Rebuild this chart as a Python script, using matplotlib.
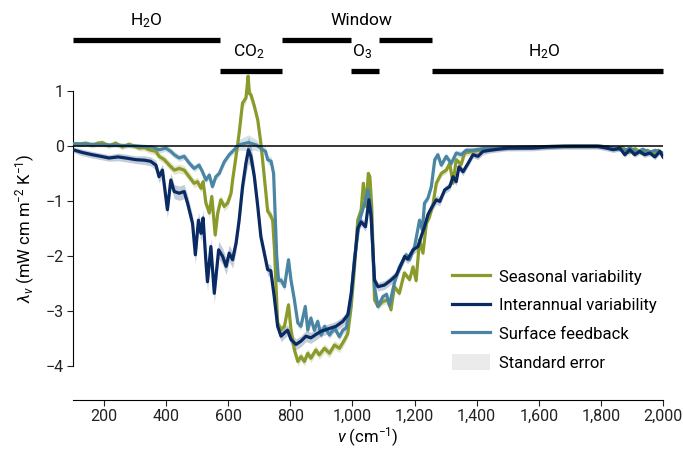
import numpy as np
import matplotlib
matplotlib.use("Agg")
import matplotlib.pyplot as plt
from matplotlib.lines import Line2D
from matplotlib.patches import Patch

plt.rcParams['font.family'] = ['Roboto', 'DejaVu Sans']
plt.rcParams['mathtext.fontset'] = 'custom'
plt.rcParams['mathtext.rm'] = 'Roboto'
plt.rcParams['mathtext.it'] = 'Roboto:italic'

# --- data (wavenumber in cm^-1, feedback in mW cm m^-2 K^-1) ---
seasonal_nu = [100, 120, 141, 162, 180, 194, 216, 237, 259, 280,
               300, 313, 330, 345, 367, 377, 394, 410, 426, 442,
               458, 474, 490, 501, 512, 519, 528, 539, 547, 558,
               566, 576, 587, 598, 609, 614, 625, 635, 646, 657,
               664, 668, 673, 684, 695, 705, 716, 727, 735, 743,
               749, 759, 770, 781, 794, 802, 813, 824, 834, 845,
               856, 866, 882, 893, 910, 926, 942, 958, 974, 985,
               996, 1006, 1017, 1028, 1035, 1044, 1051, 1056, 1062, 1071,
               1082, 1098, 1114, 1124, 1135, 1151, 1167, 1184, 1195, 1205,
               1216, 1227, 1238, 1248, 1259, 1270, 1286, 1302, 1313, 1324,
               1334, 1350, 1361, 1383, 1410, 1440, 1480, 1530, 1590, 1650,
               1720, 1780, 1820, 1845, 1870, 1890, 1910, 1930, 1950, 1970,
               1985, 2000]
seasonal = [0.04, 0.03, 0.05, 0.01, 0.05, 0.06, 0.00, 0.05, -0.02, 0.03,
            -0.01, -0.04, -0.03, -0.07, -0.10, -0.19, -0.25, -0.35, -0.44, -0.41,
            -0.44, -0.56, -0.68, -0.65, -0.77, -0.65, -1.04, -1.22, -0.92, -1.62,
            -1.22, -0.98, -1.10, -1.04, -0.86, -0.62, -0.19, 0.23, 0.78, 0.87,
            1.27, 0.95, 0.93, 0.72, 0.47, 0.05, -0.56, -1.19, -1.25, -1.35,
            -1.90, -3.22, -3.34, -3.28, -2.89, -3.34, -3.71, -3.92, -3.83, -3.92,
            -3.77, -3.86, -3.71, -3.80, -3.68, -3.77, -3.62, -3.68, -3.53, -3.41,
            -2.92, -2.25, -1.35, -1.16, -0.68, -1.10, -0.50, -0.56, -1.10, -2.80,
            -2.92, -2.83, -2.80, -2.98, -2.56, -2.68, -2.31, -2.43, -2.20, -2.45,
            -1.71, -1.95, -1.41, -1.29, -1.07, -0.68, -0.50, -0.44, -0.32, -0.68,
            -0.25, -0.34, -0.13, -0.10, -0.08, -0.06, -0.04, -0.03, -0.02, -0.01,
            0.00, 0.00, -0.02, -0.05, -0.03, -0.12, -0.05, -0.13, -0.08, -0.15,
            -0.08, -0.15]
seasonal_err = [0.04, 0.05, 0.05, 0.05, 0.05, 0.05, 0.05, 0.05, 0.05, 0.05,
                0.05, 0.05, 0.06, 0.06, 0.07, 0.07, 0.07, 0.08, 0.08, 0.08,
                0.08, 0.08, 0.08, 0.08, 0.08, 0.08, 0.09, 0.09, 0.09, 0.09,
                0.09, 0.08, 0.08, 0.08, 0.08, 0.08, 0.08, 0.09, 0.09, 0.09,
                0.09, 0.09, 0.09, 0.09, 0.09, 0.09, 0.09, 0.09, 0.09, 0.09,
                0.09, 0.08, 0.08, 0.08, 0.08, 0.08, 0.08, 0.08, 0.08, 0.08,
                0.08, 0.08, 0.08, 0.08, 0.08, 0.08, 0.08, 0.08, 0.08, 0.08,
                0.08, 0.08, 0.06, 0.06, 0.06, 0.06, 0.06, 0.06, 0.06, 0.06,
                0.06, 0.06, 0.06, 0.06, 0.06, 0.06, 0.06, 0.06, 0.06, 0.06,
                0.06, 0.06, 0.06, 0.06, 0.06, 0.06, 0.06, 0.06, 0.06, 0.06,
                0.06, 0.06, 0.06, 0.06, 0.05, 0.05, 0.04, 0.04, 0.04, 0.04,
                0.04, 0.04, 0.04, 0.04, 0.04, 0.04, 0.04, 0.04, 0.04, 0.04,
                0.04, 0.04]

interannual_nu = [100, 130, 162, 190, 216, 245, 270, 302, 330, 350,
                  367, 377, 388, 404, 415, 426, 442, 458, 469, 485,
                  494, 504, 512, 519, 528, 533, 544, 555, 569, 582,
                  593, 603, 614, 625, 635, 646, 657, 665, 673, 684,
                  695, 705, 716, 727, 737, 748, 759, 770, 781, 791,
                  802, 818, 834, 850, 866, 882, 899, 915, 931, 947,
                  969, 985, 996, 1006, 1017, 1028, 1042, 1053, 1060, 1071,
                  1082, 1103, 1124, 1141, 1152, 1168, 1178, 1195, 1211, 1221,
                  1232, 1243, 1254, 1270, 1281, 1297, 1313, 1324, 1334, 1343,
                  1356, 1372, 1388, 1404, 1420, 1442, 1469, 1500, 1540, 1580,
                  1625, 1680, 1735, 1790, 1818, 1840, 1861, 1877, 1893, 1909,
                  1925, 1941, 1958, 1974, 1990, 2000]
interannual = [-0.07, -0.12, -0.16, -0.19, -0.22, -0.20, -0.22, -0.25, -0.26, -0.28,
               -0.35, -0.56, -0.44, -1.16, -0.62, -0.83, -0.86, -0.83, -1.04, -1.41,
               -1.98, -1.35, -1.59, -1.31, -2.10, -2.47, -1.83, -2.68, -1.89, -2.01,
               -2.19, -1.95, -2.07, -1.77, -1.35, -0.74, -0.31, -0.07, -0.19, -0.56,
               -1.10, -1.65, -1.95, -2.25, -2.27, -2.74, -3.28, -3.46, -3.40, -3.35,
               -3.52, -3.61, -3.55, -3.46, -3.49, -3.43, -3.37, -3.34, -3.31, -3.28,
               -3.19, -3.07, -2.68, -2.13, -1.50, -1.38, -1.47, -0.98, -1.28, -2.44,
               -2.56, -2.53, -2.44, -2.35, -2.22, -2.01, -2.06, -1.89, -1.83, -1.65,
               -1.47, -1.25, -1.13, -0.98, -1.01, -0.80, -0.74, -0.56, -0.65, -0.38,
               -0.47, -0.32, -0.16, -0.19, -0.10, -0.08, -0.06, -0.04, -0.04, -0.04,
               -0.02, -0.01, -0.01, -0.01, -0.04, -0.07, -0.04, -0.16, -0.07, -0.16,
               -0.10, -0.16, -0.13, -0.20, -0.10, -0.20]
interannual_err = [0.05, 0.06, 0.06, 0.06, 0.06, 0.07, 0.07, 0.07, 0.08, 0.08,
                   0.09, 0.11, 0.11, 0.15, 0.13, 0.13, 0.13, 0.13, 0.14, 0.15,
                   0.17, 0.15, 0.15, 0.15, 0.16, 0.17, 0.16, 0.17, 0.16, 0.15,
                   0.15, 0.15, 0.15, 0.15, 0.16, 0.18, 0.21, 0.24, 0.21, 0.18,
                   0.15, 0.13, 0.12, 0.11, 0.11, 0.11, 0.10, 0.10, 0.10, 0.10,
                   0.10, 0.10, 0.10, 0.10, 0.10, 0.10, 0.09, 0.09, 0.09, 0.09,
                   0.09, 0.09, 0.09, 0.08, 0.08, 0.08, 0.08, 0.08, 0.08, 0.08,
                   0.08, 0.08, 0.08, 0.08, 0.08, 0.08, 0.08, 0.08, 0.08, 0.08,
                   0.08, 0.08, 0.08, 0.08, 0.08, 0.07, 0.07, 0.07, 0.07, 0.07,
                   0.07, 0.06, 0.06, 0.06, 0.06, 0.05, 0.05, 0.05, 0.05, 0.05,
                   0.05, 0.05, 0.05, 0.05, 0.05, 0.05, 0.05, 0.05, 0.05, 0.05,
                   0.05, 0.05, 0.05, 0.05, 0.05, 0.05]

surface_nu = [100, 150, 200, 250, 300, 324, 356, 377, 399, 415,
              426, 442, 458, 474, 490, 506, 517, 528, 539, 549,
              560, 571, 587, 603, 619, 635, 650, 665, 689, 700,
              711, 720, 727, 738, 746, 750, 756, 762, 770, 781,
              794, 802, 813, 824, 834, 848, 856, 866, 877, 888,
              899, 910, 926, 942, 958, 969, 980, 990, 996, 1006,
              1023, 1039, 1050, 1060, 1071, 1082, 1098, 1110, 1119, 1135,
              1151, 1173, 1184, 1200, 1216, 1225, 1232, 1243, 1254, 1265,
              1275, 1286, 1302, 1318, 1334, 1350, 1366, 1388, 1420, 1460,
              1520, 1580, 1650, 1720, 1790, 1820, 1850, 1875, 1895, 1915,
              1935, 1955, 1975, 2000]
surface = [0.04, 0.03, 0.02, 0.01, 0.00, -0.01, -0.02, -0.07, -0.04, -0.10,
           -0.16, -0.22, -0.19, -0.31, -0.41, -0.35, -0.47, -0.62, -0.53, -0.74,
           -0.56, -0.50, -0.29, -0.16, -0.07, 0.02, 0.04, 0.06, 0.02, -0.02,
           -0.07, -0.10, -0.25, -0.28, -0.50, -1.10, -2.00, -2.45, -2.44, -2.56,
           -2.07, -2.44, -2.80, -3.22, -3.28, -2.92, -3.35, -3.13, -3.35, -3.19,
           -3.44, -3.28, -3.44, -3.31, -3.47, -3.35, -3.31, -3.00, -2.74, -2.07,
           -1.35, -1.04, -0.80, -1.22, -2.56, -2.92, -2.74, -2.70, -2.90, -2.49,
           -2.20, -1.98, -2.07, -1.83, -1.35, -1.53, -1.04, -0.95, -0.74, -0.25,
           -0.16, -0.35, -0.19, -0.32, -0.13, -0.16, -0.08, -0.08, -0.05, -0.04,
           -0.03, -0.02, -0.01, 0.00, 0.00, -0.02, -0.05, -0.08, -0.04, -0.12,
           -0.06, -0.12, -0.08, -0.13]
surface_err = [0.04, 0.04, 0.04, 0.04, 0.04, 0.04, 0.04, 0.06, 0.06, 0.06,
               0.06, 0.06, 0.06, 0.06, 0.06, 0.06, 0.06, 0.06, 0.06, 0.06,
               0.06, 0.06, 0.06, 0.06, 0.06, 0.10, 0.12, 0.14, 0.10, 0.08,
               0.08, 0.08, 0.08, 0.08, 0.08, 0.07, 0.07, 0.07, 0.07, 0.07,
               0.07, 0.07, 0.07, 0.07, 0.07, 0.07, 0.07, 0.07, 0.07, 0.07,
               0.07, 0.07, 0.07, 0.07, 0.07, 0.07, 0.07, 0.07, 0.07, 0.07,
               0.07, 0.07, 0.07, 0.07, 0.06, 0.06, 0.06, 0.06, 0.06, 0.06,
               0.06, 0.06, 0.06, 0.06, 0.06, 0.06, 0.06, 0.06, 0.06, 0.06,
               0.06, 0.06, 0.06, 0.06, 0.06, 0.06, 0.06, 0.06, 0.06, 0.04,
               0.04, 0.04, 0.04, 0.04, 0.04, 0.04, 0.04, 0.04, 0.04, 0.04,
               0.04, 0.04, 0.04, 0.04]

series_labels = ["Seasonal variability", "Interannual variability", "Surface feedback"]
xticks = [200, 400, 600, 800, 1000, 1200, 1400, 1600, 1800, 2000]
xtick_labels = ["200", "400", "600", "800", "1,000", "1,200", "1,400", "1,600", "1,800", "2,000"]
yticks = [-4, -3, -2, -1, 0, 1]

# absorption bands drawn above the panel; row 1 = upper, 0 = lower
band_start = [100, 574, 772, 994, 1084, 1255]
band_end = [574, 772, 994, 1084, 1255, 2000]
band_row = [1, 0, 1, 0, 1, 0]
band_text = ["H$_2$O", "CO$_2$", "Window", "O$_3$", "H$_2$O"]
band_text_x = [335, 668, 1029, 1032, 1619]
band_text_row = [1, 0, 1, 0, 0]

c_seas = "#8a9a2b"
c_inter = "#0a2a64"
c_surf = "#4a86a3"

fig = plt.figure(figsize=(6.83, 4.5), dpi=100)
ax = fig.add_axes([73 / 683, 50 / 450, 590 / 683, 330 / 450])

# zero line sits on top of the curves
ax.axhline(0, color="black", lw=1.1, zorder=6)

for nu, val, err, col, a in [(seasonal_nu, seasonal, seasonal_err, c_seas, 0.24),
                             (surface_nu, surface, surface_err, c_surf, 0.24),
                             (interannual_nu, interannual, interannual_err, c_inter, 0.24)]:
    nu = np.array(nu)
    val = np.array(val)
    err = np.array(err)
    ax.fill_between(nu, val - err, val + err, color=col, alpha=a, lw=0, zorder=2)

ax.plot(seasonal_nu, seasonal, color=c_seas, lw=2.3, zorder=3)
ax.plot(surface_nu, surface, color=c_surf, lw=2.3, zorder=4)
ax.plot(interannual_nu, interannual, color=c_inter, lw=2.3, zorder=5)

ax.set_xlim(100, 2000)
ax.set_ylim(-4.62, 1.38)
ax.set_xticks(xticks)
ax.set_xticklabels(xtick_labels)
ax.set_yticks(yticks)
for s in ["top", "right"]:
    ax.spines[s].set_visible(False)
ax.spines["left"].set_bounds(-4, 1)
ax.spines["bottom"].set_bounds(100, 2000)
ax.tick_params(direction="out", length=4, width=0.8, labelsize=11.5, colors="#222222", pad=2.5)
fig.text(368 / 683, 1 - 437 / 450, r"$\nu$ (cm$^{-1}$)", ha="center", va="center", fontsize=12)
fig.text(25 / 683, 1 - 228 / 450, r"$\lambda_\nu$ (mW cm m$^{-2}$ K$^{-1}$)",
         rotation=90, ha="center", va="center", fontsize=12)

# band bars and labels above the plot
trans = ax.get_xaxis_transform()
row_y = {1: 1.091, 0: 0.997}
text_y = {1: 1.150, 0: 1.055}
for x0, x1, r in zip(band_start, band_end, band_row):
    ax.plot([x0, x1], [row_y[r], row_y[r]], color="black", lw=3.8,
            solid_capstyle="butt", transform=trans, clip_on=False)
for t, x, r in zip(band_text, band_text_x, band_text_row):
    ax.text(x, text_y[r], t, transform=trans, ha="center", va="center", fontsize=12.5)

handles = [Line2D([], [], color=c_seas, lw=2.3),
           Line2D([], [], color=c_inter, lw=2.3),
           Line2D([], [], color=c_surf, lw=2.3),
           Patch(facecolor="#ebebeb", edgecolor="none")]
ax.legend(handles, series_labels + ["Standard error"], loc="upper left",
          bbox_to_anchor=(0.628, 0.425), frameon=False, fontsize=12,
          handlelength=2.3, handletextpad=0.55, labelspacing=0.72, borderpad=0,
          handleheight=1.1)

fig.savefig("out.png", dpi=100)
